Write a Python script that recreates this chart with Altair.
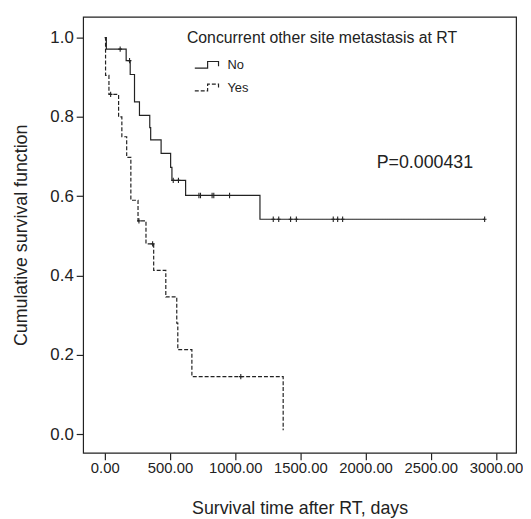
import altair as alt
import pandas as pd

# ---- data ----
no_times = [0, 12, 164, 195, 228, 266, 345, 352, 432, 505, 515, 620, 1190, 2913]
no_surv = [1.0, 0.971, 0.942, 0.907, 0.838, 0.804, 0.773, 0.742, 0.708, 0.673, 0.640, 0.602, 0.542, 0.542]
no_censor = [118, 190, 525, 565, 722, 734, 823, 836, 957, 1292, 1334, 1425, 1469, 1752, 1786, 1824, 2913]

yes_times = [0, 6, 32, 106, 131, 168, 200, 255, 316, 375, 468, 552, 560, 668, 1368]
yes_surv = [1.0, 0.905, 0.857, 0.800, 0.750, 0.698, 0.590, 0.538, 0.480, 0.413, 0.346, 0.280, 0.213, 0.145, 0.01]
yes_censor = [45, 262, 367, 1043]

groups = ["No", "Yes"]
x_ticks = [0, 500, 1000, 1500, 2000, 2500, 3000]
y_ticks = [0.0, 0.2, 0.4, 0.6, 0.8, 1.0]


def step_value(times, surv, t):
    v = surv[0]
    for ti, si in zip(times, surv):
        if ti <= t:
            v = si
    return v


curve_rows = []
for g, ts, ss in [("No", no_times, no_surv), ("Yes", yes_times, yes_surv)]:
    for i, (t, s) in enumerate(zip(ts, ss)):
        curve_rows.append({"group": g, "t": t, "s": s, "order": i})
curves = pd.DataFrame(curve_rows)

cens_rows = []
for g, ts, ss, cs in [("No", no_times, no_surv, no_censor), ("Yes", yes_times, yes_surv, yes_censor)]:
    for c in cs:
        cens_rows.append({"group": g, "t": c, "s": step_value(ts, ss, c)})
cens = pd.DataFrame(cens_rows)

FONT = "Liberation Sans"
INK = "#222222"

xscale = alt.Scale(domain=[-166, 3154], nice=False, zero=False)
yscale = alt.Scale(domain=[-0.047, 1.0524], nice=False, zero=False)

dash_scale = alt.Scale(domain=groups, range=[[1, 0], [4, 2]])

legend_path = "M-0.07,0.45H1.66V-0.45H3.13V0.2"

lines = alt.Chart(curves).mark_line(
    interpolate="step-after", color=INK, strokeWidth=1.2
).encode(
    x=alt.X("t:Q", scale=xscale,
            axis=alt.Axis(values=x_ticks, format=".2f", title="Survival time after RT, days")),
    y=alt.Y("s:Q", scale=yscale,
            axis=alt.Axis(values=y_ticks, format=".1f", title="Cumulative survival function")),
    strokeDash=alt.StrokeDash(
        "group:N", scale=dash_scale,
        legend=alt.Legend(
            title="Concurrent other site metastasis at RT",
            orient="none", legendX=105, legendY=13,
            symbolType=legend_path, symbolSize=225, symbolStrokeWidth=1.2,
            symbolStrokeColor=INK, symbolFillColor="transparent",
            labelFont=FONT, labelFontSize=13, labelColor=INK,
            titleFont=FONT, titleFontSize=16, titleFontWeight="normal", titleColor=INK,
            titlePadding=11, rowPadding=7, labelOffset=24, titleLimit=400,
        ),
    ),
    order="order:Q",
    detail="group:N",
)

crosses = alt.Chart(cens).mark_point(
    shape="M0,-1V1M-0.7,0H0.7", filled=False, color=INK, strokeWidth=1.1, size=30, opacity=1
).encode(
    x=alt.X("t:Q", scale=xscale),
    y=alt.Y("s:Q", scale=yscale),
)

ptext = alt.Chart(pd.DataFrame({"label": ["P=0.000431"]})).mark_text(
    font=FONT, fontSize=18, align="left", baseline="middle", color=INK
).encode(
    x=alt.value(297), y=alt.value(148), text="label:N"
)

chart = alt.layer(lines, crosses, ptext).properties(
    width=438, height=441,
    autosize=alt.AutoSizeParams(type="none"),
    padding={"left": 76, "top": 6, "right": 7, "bottom": 64},
).configure_view(
    stroke=INK, strokeWidth=1.2
).configure_axis(
    grid=False, domain=False, ticks=True, tickSize=7, tickColor=INK, tickWidth=1.2,
    labelFont=FONT, labelColor=INK,
    titleFont=FONT, titleFontSize=18, titleFontWeight="normal", titleColor=INK,
).configure_axisX(
    labelFontSize=15, labelPadding=1, titlePadding=24
).configure_axisY(
    labelFontSize=17, labelPadding=3, titlePadding=20
)

chart.save("out.html", embed_options={"renderer": "svg", "actions": False})
